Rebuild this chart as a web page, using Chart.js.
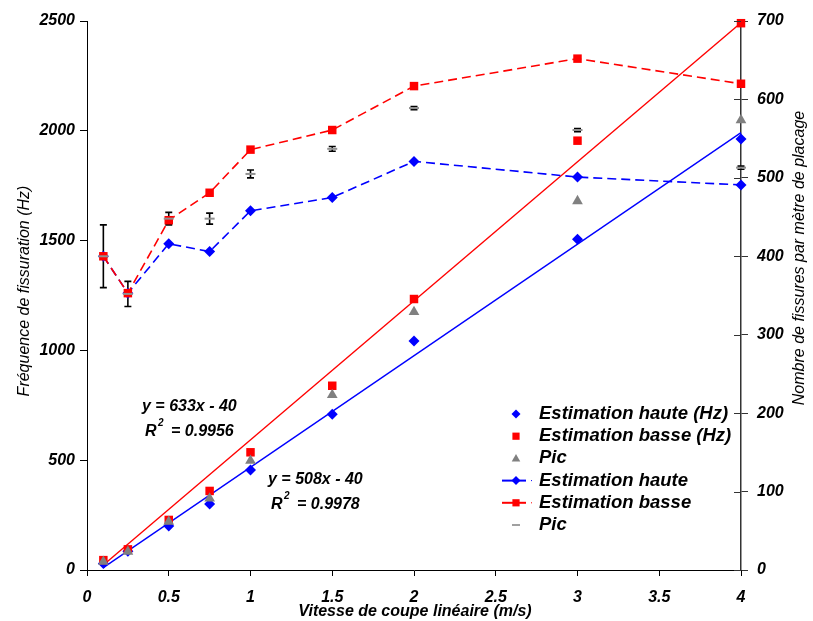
<!DOCTYPE html>
<html>
<head>
<meta charset="utf-8">
<script src="https://cdn.jsdelivr.net/npm/chart.js@4.4.1/dist/chart.umd.min.js"></script>
<style>
  html, body { margin: 0; padding: 0; background: #fff; }
  canvas { display: block; }
</style>
</head>
<body>
<canvas id="chart" width="813" height="621"></canvas>
<script>
// Vitesse de coupe (m/s)
const speeds = [0.1, 0.25, 0.5, 0.75, 1, 1.5, 2, 3, 4];

// Fréquence de fissuration (Hz) - left axis, markers only
const hauteHz = [30, 85, 200, 300, 455, 709, 1043, 1506, 1963];
const basseHz = [45, 94, 228, 360, 536, 839, 1234, 1955, 2490];
const picHz   = [38, 83, 220, 326, 498, 797, 1175, 1680, 2049];

// Nombre de fissures par mètre - right axis
const hauteCount = [400, 353, 416, 406, 458, 475, 521, 501, 491];
const basseCount = [400, 353, 446, 481, 536, 561, 617, 652, 620];
const picCount   = [400, 352, 448, 448, 505, 537, 589, 561, 513];
const picErr     = [40, 16, 8, 7, 5, 3, 2, 2, 2];

// Linear fits (endpoints of the trend lines)
const trendX     = [0.1, 4];
const trendHaute = [11, 1992];
const trendBasse = [23, 2492];

// Tick labels
const xTicks      = [0, 0.5, 1, 1.5, 2, 2.5, 3, 3.5, 4];
const yLeftTicks  = [0, 500, 1000, 1500, 2000, 2500];
const yRightTicks = [0, 100, 200, 300, 400, 500, 600, 700];

const FONT = "'Liberation Sans', Arial, sans-serif";
const BLUE = '#0000ff';
const RED = '#ff0000';
const GRAY = '#808080';

const pts = (xs, ys) => xs.map((x, i) => ({ x: x, y: ys[i] }));
const tickFont = { family: FONT, size: 16, style: 'italic', weight: 'bold' };

function drawMarker(ctx, style, x, y, r, color) {
    ctx.save();
    ctx.fillStyle = color;
    ctx.strokeStyle = color;
    ctx.beginPath();
    if (style === 'rectRot') {
        ctx.moveTo(x, y - r); ctx.lineTo(x + r, y); ctx.lineTo(x, y + r); ctx.lineTo(x - r, y);
        ctx.closePath(); ctx.fill();
    } else if (style === 'rect') {
        ctx.rect(x - r * 0.8, y - r * 0.8, r * 1.6, r * 1.6); ctx.fill();
    } else if (style === 'triangle') {
        ctx.moveTo(x, y - r); ctx.lineTo(x + r * 0.95, y + r * 0.7); ctx.lineTo(x - r * 0.95, y + r * 0.7);
        ctx.closePath(); ctx.fill();
    } else if (style === 'line') {
        ctx.lineWidth = 2;
        ctx.moveTo(x - 4, y); ctx.lineTo(x + 4, y); ctx.stroke();
    }
    ctx.restore();
}

const extras = {
    id: 'extras',
    beforeDatasetsDraw(chart) {
        // error bars of the "Pic" series (right axis)
        const ctx = chart.ctx;
        const xs = chart.scales.x, ys = chart.scales.y1;
        ctx.save();
        ctx.strokeStyle = '#000';
        ctx.lineWidth = 1.6;
        speeds.forEach((s, i) => {
            const px = xs.getPixelForValue(s);
            const top = ys.getPixelForValue(picCount[i] + picErr[i]);
            const bot = ys.getPixelForValue(picCount[i] - picErr[i]);
            ctx.beginPath();
            ctx.moveTo(px, top); ctx.lineTo(px, bot);
            ctx.moveTo(px - 3.5, top); ctx.lineTo(px + 3.5, top);
            ctx.moveTo(px - 3.5, bot); ctx.lineTo(px + 3.5, bot);
            ctx.stroke();
        });
        ctx.restore();
    },
    afterDraw(chart) {
        const ctx = chart.ctx;
        const area = chart.chartArea;
        const r = chart.scales.y1;

        // inner half of the right axis ticks
        ctx.save();
        ctx.strokeStyle = '#333';
        ctx.lineWidth = 1;
        yRightTicks.forEach(v => {
            const py = Math.round(r.getPixelForValue(v)) + 0.5;
            ctx.beginPath();
            ctx.moveTo(area.right - 7, py); ctx.lineTo(area.right, py);
            ctx.stroke();
        });
        ctx.restore();

        // axis titles
        ctx.save();
        ctx.fillStyle = '#000';
        ctx.textAlign = 'center';
        ctx.textBaseline = 'middle';
        ctx.font = 'italic 16px ' + FONT;
        ctx.save();
        ctx.translate(25, 291);
        ctx.rotate(-Math.PI / 2);
        ctx.fillText('Fréquence de fissuration (Hz)', 0, 0);
        ctx.restore();
        ctx.save();
        ctx.translate(800, 258);
        ctx.rotate(-Math.PI / 2);
        ctx.fillText('Nombre de fissures par mètre de placage', 0, 0);
        ctx.restore();
        ctx.font = 'italic bold 16px ' + FONT;
        ctx.fillText('Vitesse de coupe linéaire (m/s)', 415, 612);

        // regression equations
        ctx.textAlign = 'left';
        const eq = (txt, r2, x, y) => {
            ctx.font = 'italic bold 16px ' + FONT;
            ctx.fillText(txt, x, y);
            ctx.fillText('R', x + 3, y + 25);
            ctx.font = 'italic bold 10px ' + FONT;
            ctx.fillText('2', x + 16, y + 16);
            ctx.font = 'italic bold 16px ' + FONT;
            ctx.fillText('= ' + r2, x + 29, y + 25);
        };
        eq('y = 633x - 40', '0.9956', 142, 407);
        eq('y = 508x - 40', '0.9978', 268, 480);
        ctx.restore();

        // legend
        const order = [0, 1, 2, 3, 4, 5];
        ctx.save();
        ctx.font = 'italic bold 18.5px ' + FONT;
        ctx.textBaseline = 'middle';
        ctx.fillStyle = '#000';
        order.forEach((di, k) => {
            const ds = chart.data.datasets[di];
            const y = 414 + k * 22.2;
            if (ds.showLine) {
                ctx.save();
                ctx.strokeStyle = ds.borderColor;
                ctx.lineWidth = 2;
                ctx.beginPath();
                ctx.moveTo(502, y); ctx.lineTo(526, y);
                ctx.stroke();
                ctx.fillStyle = ds.borderColor;
                ctx.fillRect(531, y - 0.5, 1, 1);
                ctx.restore();
            }
            drawMarker(ctx, ds.pointStyle, 516, y, 4.5, ds.pointBackgroundColor);
            ctx.fillText(ds.label, 539, y);
        });
        ctx.restore();
    }
};

const datasets = [
    { label: 'Estimation haute (Hz)', data: pts(speeds, hauteHz), yAxisID: 'y', showLine: false,
      pointStyle: 'rectRot', pointRadius: 5.5, pointBackgroundColor: BLUE, pointBorderColor: BLUE,
      pointBorderWidth: 0, borderColor: BLUE, order: 6, clip: false },
    { label: 'Estimation basse (Hz)', data: pts(speeds, basseHz), yAxisID: 'y', showLine: false,
      pointStyle: 'rect', pointRadius: 6, pointBackgroundColor: RED, pointBorderColor: RED,
      pointBorderWidth: 0, borderColor: RED, order: 5, clip: false },
    { label: 'Pic', data: pts(speeds, picHz), yAxisID: 'y', showLine: false,
      pointStyle: 'triangle', pointRadius: 6.2, pointBackgroundColor: GRAY, pointBorderColor: GRAY,
      pointBorderWidth: 0, borderColor: GRAY, order: 4, clip: false },
    { label: 'Estimation haute', data: pts(speeds, hauteCount), yAxisID: 'y1', showLine: true,
      borderColor: BLUE, borderWidth: 1.6, borderDash: [9, 5],
      pointStyle: 'rectRot', pointRadius: 5.5, pointBackgroundColor: BLUE, pointBorderColor: BLUE,
      pointBorderWidth: 0, order: 3, clip: false },
    { label: 'Estimation basse', data: pts(speeds, basseCount), yAxisID: 'y1', showLine: true,
      borderColor: RED, borderWidth: 1.6, borderDash: [9, 5],
      pointStyle: 'rect', pointRadius: 6, pointBackgroundColor: RED, pointBorderColor: RED,
      pointBorderWidth: 0, order: 2, clip: false },
    { label: 'Pic', data: pts(speeds, picCount), yAxisID: 'y1', showLine: false,
      pointStyle: 'line', pointRadius: 5, pointBackgroundColor: '#a0a0a0', pointBorderColor: '#909090',
      pointBorderWidth: 2, borderColor: GRAY, order: 1, clip: false },
    { label: 'Tendance haute', data: pts(trendX, trendHaute), yAxisID: 'y', showLine: true,
      borderColor: BLUE, borderWidth: 1.4, pointRadius: 0, order: 7, clip: false },
    { label: 'Tendance basse', data: pts(trendX, trendBasse), yAxisID: 'y', showLine: true,
      borderColor: RED, borderWidth: 1.4, pointRadius: 0, order: 8, clip: false }
];

new Chart(document.getElementById('chart'), {
    type: 'line',
    data: { datasets: datasets },
    options: {
        responsive: false,
        animation: false,
        events: [],
        devicePixelRatio: 1,
        layout: { padding: { top: 21, left: 0, right: 0, bottom: 0 } },
        plugins: { legend: { display: false }, tooltip: { enabled: false } },
        scales: {
            x: {
                type: 'linear', min: 0, max: 4,
                afterFit: s => { s.height = 51; },
                afterBuildTicks: s => { s.ticks = xTicks.map(v => ({ value: v })); },
                ticks: { font: tickFont, color: '#000', padding: 12, maxRotation: 0,
                         callback: v => String(v) },
                grid: { drawOnChartArea: false, drawTicks: true, tickLength: 6, color: '#000' },
                border: { display: true, color: '#000', width: 1 }
            },
            y: {
                type: 'linear', position: 'left', min: 0, max: 2500,
                afterFit: s => { s.width = 87; },
                afterBuildTicks: s => { s.ticks = yLeftTicks.map(v => ({ value: v })); },
                ticks: { font: tickFont, color: '#000', padding: 5, callback: v => String(v) },
                grid: { drawOnChartArea: false, drawTicks: true, tickLength: 7, color: '#000' },
                border: { display: true, color: '#000', width: 1 }
            },
            y1: {
                type: 'linear', position: 'right', min: 0, max: 700,
                afterFit: s => { s.width = 72; },
                afterBuildTicks: s => { s.ticks = yRightTicks.map(v => ({ value: v })); },
                ticks: { font: tickFont, color: '#000', padding: 9, callback: v => String(v) },
                grid: { drawOnChartArea: false, drawTicks: true, tickLength: 7, color: '#333' },
                border: { display: true, color: '#333', width: 1.5 }
            }
        }
    },
    plugins: [extras]
});
</script>
</body>
</html>
